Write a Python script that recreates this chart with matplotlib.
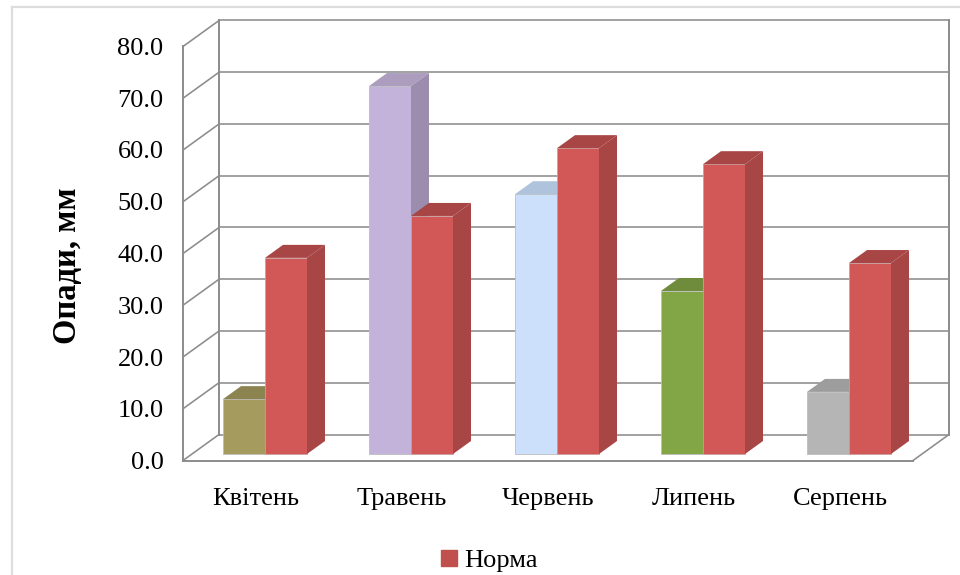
import matplotlib
matplotlib.use('Agg')
import matplotlib.pyplot as plt
from matplotlib.lines import Line2D
from matplotlib.patches import Patch

months = ['Квітень', 'Травень', 'Червень', 'Липень', 'Серпень']
rain = [10.6, 71.1, 50.2, 31.5, 12.0]
norm = [37.9, 46.0, 59.1, 56.0, 36.9]
yticks = [0, 10, 20, 30, 40, 50, 60, 70, 80]

rain_front = ['#A59B5E', '#C3B3DB', '#CCE0FC', '#82A546', '#B5B5B5']
rain_top = ['#8B8350', '#AC9DBF', '#B0C3DC', '#6F8C3C', '#9D9D9D']
rain_side = ['#7F7848', '#9C8DAE', '#A0B2CA', '#658035', '#8F8F8F']
norm_front = '#D25757'
norm_dark = '#A84545'
wall = '#8C8C8C'

W, H = 960, 575
plt.rcParams['font.family'] = ['Liberation Serif', 'DejaVu Serif']

fig = plt.figure(figsize=(W / 100, H / 100), dpi=100)
# front plane of the box, in pixels
left, right, top, bottom = 183, 913, 46.5, 460.5
ax = fig.add_axes([left / W, 1 - bottom / H, (right - left) / W, (bottom - top) / H])
ax.set_xlim(-0.5, 4.5)
ax.set_ylim(0, 80)

# depth axis: a point at depth d moves right and up by this much
dx = 36 / ((right - left) / 5)
dy = 26 / ((bottom - top) / 80)
bw = 42 / ((right - left) / 5)


def pr(x, v, d):
    return x + d * dx, v + d * dy


def line3d(p0, p1, lw=1.15):
    a, b = pr(*p0), pr(*p1)
    ax.plot([a[0], b[0]], [a[1], b[1]], color=wall, lw=lw, clip_on=False,
            solid_capstyle='projecting', zorder=1, scalex=False, scaley=False)


# walls and floor
for v in yticks:
    line3d((-0.5, v, 1), (4.5, v, 1))
    line3d((-0.5, v, 0), (-0.5, v, 1))
line3d((-0.5, 0, 0), (-0.5, 80, 0), 1.4)
line3d((-0.5, 0, 1), (-0.5, 80, 1), 1.4)
line3d((4.5, 0, 1), (4.5, 80, 1), 1.4)
line3d((-0.5, 0, 0), (4.5, 0, 0), 1.4)
line3d((4.5, 0, 0), (4.5, 0, 1))


def bar3d(x, v, front, topc, side, edge):
    d0, d1 = 0.25, 0.75
    _, base = pr(0, 0, d0)
    fx, _ = pr(x, 0, d0)
    ax.bar(fx, v, bw, bottom=base, align='edge', color=front, edgecolor=edge,
           linewidth=0.6, zorder=3, clip_on=False)
    top_pts = [pr(x, v, d0), pr(x + bw, v, d0), pr(x + bw, v, d1), pr(x, v, d1)]
    side_pts = [pr(x + bw, 0, d0), pr(x + bw, v, d0), pr(x + bw, v, d1), pr(x + bw, 0, d1)]
    ax.fill(*zip(*top_pts), color=topc, lw=0, zorder=3, clip_on=False)
    ax.fill(*zip(*side_pts), color=side, lw=0, zorder=3, clip_on=False)


for i in range(len(months)):
    bar3d(i - bw, rain[i], rain_front[i], rain_top[i], rain_side[i], '#BDBDBD')
    bar3d(i, norm[i], norm_front, norm_dark, norm_dark, '#C9A0A0')

ax.set_xticks(range(len(months)))
ax.set_xticklabels(months, fontsize=19)
ax.set_yticks(yticks)
ax.set_yticklabels(['%.1f' % v for v in yticks], fontsize=19)
ax.tick_params(axis='x', length=0, pad=19.5)
ax.tick_params(axis='y', length=0, pad=14)
ax.set_ylabel('Опади, мм', fontsize=23.5, fontweight='bold')
ax.yaxis.set_label_coords(-0.137, 0.47)
ax.patch.set_visible(False)
for s in ax.spines.values():
    s.set_visible(False)

ax.legend(handles=[Patch(color='#C0504D', label='Норма')], loc='center',
          bbox_to_anchor=(489.5 / W, 1 - 561 / H), bbox_transform=fig.transFigure,
          frameon=False, fontsize=19, handlelength=0.6, handleheight=0.6,
          handletextpad=0.27, borderpad=0)

# chart frame, running off the right and bottom edges
border = '#DDDDDD'
fig.add_artist(Line2D([11.5 / W, 11.5 / W], [0, 1 - 7 / H], color=border, lw=1.6))
fig.add_artist(Line2D([11.5 / W, 1], [1 - 7 / H, 1 - 7 / H], color=border, lw=1.6))

fig.savefig('out.png', dpi=100)
